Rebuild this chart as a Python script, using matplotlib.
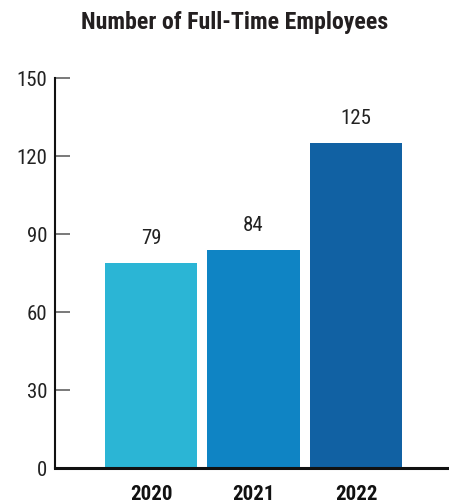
import matplotlib
matplotlib.use("Agg")
import matplotlib.pyplot as plt

years = ["2020", "2021", "2022"]
employees = [79, 84, 125]
colors = ["#2BB5D5", "#0F84C4", "#1161A3"]
yticks = [0, 30, 60, 90, 120, 150]

FONT = ["Roboto Condensed", "DejaVu Sans"]
plt.rcParams["font.family"] = FONT

fig = plt.figure(figsize=(4.49, 5.04), dpi=100)
ax = fig.add_axes([55/449, 36/504, 1 - 55/449, (468-78)/504])

x = list(range(len(years)))
bars = ax.bar(x, employees, width=0.9, color=colors, zorder=2)

ax.set_ylim(0, 150)
ax.set_xlim(-0.937, 2.907)
ax.set_yticks(yticks)
ax.set_yticklabels([str(v) for v in yticks], fontsize=15, color="#222222")
ax.set_xticks(x)
ax.set_xticklabels(years, fontsize=15, fontweight="bold", color="#111111")

ax.tick_params(axis="y", direction="in", length=10.8, width=1.1, color="#555555", pad=5.5)
ax.tick_params(axis="x", length=0, pad=12)

for s in ["top", "right"]:
    ax.spines[s].set_visible(False)
ax.spines["left"].set_linewidth(1.5)
ax.spines["left"].set_color("#111111")
ax.spines["bottom"].set_linewidth(2.2)
ax.spines["bottom"].set_color("#111111")
ax.spines["bottom"].set_zorder(3)

for xi, v in zip(x, employees):
    ax.annotate(str(v), (xi, v), xytext=(0, 10.5), textcoords="offset points",
                ha="center", va="bottom", fontsize=15, color="#222222")

fig.text(234.5/449, 1 - 22/504, "Number of Full-Time Employees", ha="center", va="center",
         fontsize=17.2, fontweight="bold", color="#231F20")

fig.savefig("out.png", dpi=100)
